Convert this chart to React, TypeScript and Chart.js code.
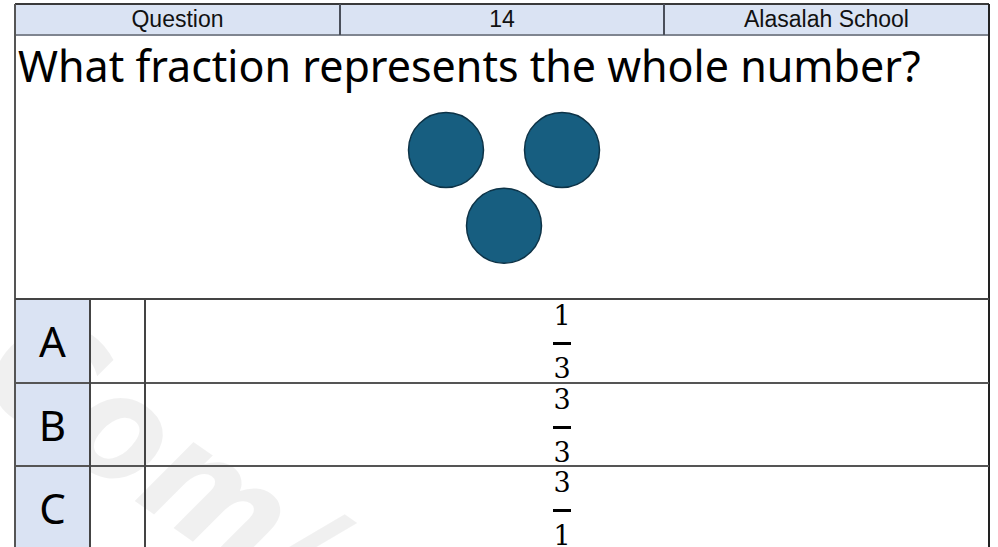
import React, { useEffect, useRef } from "react";
import { Chart, registerables } from "chart.js";

Chart.register(...registerables);

// ---- data ----
const headerLabels = ["Question", "14", "Alasalah School"];
const questionText = "What fraction represents the whole number?";
const dotX = [1, 3, 2];
const dotY = [2, 2, 1];
const optionLetters = ["A", "B", "C"];
const numerators = ["1", "3", "3"];
const denominators = ["3", "3", "1"];

// ---- layout ----
const L = 15;
const R = 989;
const HEAD_TOP = 4;
const HEAD_BOTTOM = 35;
const COL1 = 340;
const COL2 = 664;
const OPT_TOP = 299;
const ROW_H = 83.5;
const OPT_C1 = 90;
const OPT_C2 = 145;
const BLUE = "#dae3f3";
const LINE = "#3a3a3a";

function DotsChart() {
  const ref = useRef<HTMLCanvasElement | null>(null);
  useEffect(() => {
    if (!ref.current) return;
    const chart = new Chart(ref.current, {
      type: "scatter",
      data: {
        datasets: [
          {
            data: dotX.map((x, i) => ({ x, y: dotY[i] })),
            pointRadius: 37.5,
            pointHoverRadius: 37.5,
            pointBorderWidth: 1.5,
            backgroundColor: "#175e80",
            borderColor: "#0d3347",
          },
        ],
      },
      options: {
        animation: false,
        responsive: false,
        devicePixelRatio: 1,
        events: [],
        layout: { padding: 0, autoPadding: false },
        plugins: { legend: { display: false }, tooltip: { enabled: false } },
        scales: {
          x: { type: "linear", display: false, min: -6.431, max: 10.362 },
          y: { type: "linear", display: false, min: 0.032, max: 3.519 },
        },
      },
    });
    return () => chart.destroy();
  }, []);
  return (
    <canvas
      ref={ref}
      width={R - L}
      height={OPT_TOP - HEAD_BOTTOM}
      style={{ position: "absolute", left: L, top: HEAD_BOTTOM, width: R - L, height: OPT_TOP - HEAD_BOTTOM }}
    />
  );
}

function hLine(x1: number, x2: number, y: number, w = 2, color = LINE, key?: string) {
  return (
    <div key={key} style={{ position: "absolute", left: x1, top: y - w / 2, width: x2 - x1, height: w, background: color }} />
  );
}
function vLine(x: number, y1: number, y2: number, w = 2, color = LINE, key?: string) {
  return (
    <div key={key} style={{ position: "absolute", left: x - w / 2, top: y1, width: w, height: y2 - y1, background: color }} />
  );
}

export default function App() {
  const headerCols = [
    [L, COL1],
    [COL1, COL2],
    [COL2, R],
  ];
  const fracStyle: React.CSSProperties = {
    position: "absolute",
    left: 500,
    width: 124,
    height: 30,
    lineHeight: "30px",
    textAlign: "center",
    fontFamily: "'DejaVu Serif', serif",
    fontSize: 27,
    color: "#000",
  };
  return (
    <div style={{ position: "absolute", left: 0, top: 0, width: 998, height: 547, overflow: "hidden", background: "#fff" }}>
      {/* watermark */}
      <div
        style={{
          position: "absolute",
          left: 5,
          top: 255,
          fontFamily: "'DejaVu Sans Condensed', 'DejaVu Sans', sans-serif",
          fontWeight: "bold",
          fontStyle: "italic",
          fontSize: 150,
          color: "rgba(0,0,0,0.06)",
          transform: "rotate(35deg)",
          transformOrigin: "0 0",
          whiteSpace: "nowrap",
          lineHeight: 1,
        }}
      >
        .Com/
      </div>

      {/* header background */}
      <div style={{ position: "absolute", left: L, top: HEAD_TOP, width: R - L, height: HEAD_BOTTOM - HEAD_TOP, background: BLUE }} />
      {headerLabels.map((t, i) => (
        <div
          key={"h" + i}
          style={{
            position: "absolute",
            left: headerCols[i][0],
            width: headerCols[i][1] - headerCols[i][0],
            top: HEAD_TOP,
            height: HEAD_BOTTOM - HEAD_TOP,
            lineHeight: HEAD_BOTTOM - HEAD_TOP + "px",
            textAlign: "center",
            fontFamily: "'Liberation Sans', Arial, sans-serif",
            fontSize: 23,
            color: "#111",
          }}
        >
          {t}
        </div>
      ))}

      {/* question text */}
      <div
        style={{
          position: "absolute",
          left: 18,
          top: 38,
          fontFamily: "'Noto Sans', sans-serif",
          fontSize: 43,
          lineHeight: "56px",
          color: "#000",
          whiteSpace: "nowrap",
        }}
      >
        {questionText}
      </div>

      <DotsChart />

      {/* option letter column background */}
      <div style={{ position: "absolute", left: L, top: OPT_TOP, width: OPT_C1 - L, height: 547 - OPT_TOP, background: BLUE }} />

      {optionLetters.map((t, i) => {
        const top = OPT_TOP + i * ROW_H;
        return (
          <React.Fragment key={"o" + i}>
            <div
              style={{
                position: "absolute",
                left: L,
                width: OPT_C1 - L,
                top,
                height: ROW_H,
                lineHeight: ROW_H + "px",
                textAlign: "center",
                fontFamily: "'Noto Sans', sans-serif",
                fontSize: 42,
                color: "#000",
              }}
            >
              {t}
            </div>
            <div style={{ ...fracStyle, top: top + 2 }}>{numerators[i]}</div>
            <div style={{ position: "absolute", left: 553, top: top + 43, width: 18, height: 3, background: "#000" }} />
            <div style={{ ...fracStyle, top: top + 55 }}>{denominators[i]}</div>
          </React.Fragment>
        );
      })}

      {/* grid lines */}
      {hLine(L, R, HEAD_TOP, 2, LINE, "t")}
      {hLine(L, R, HEAD_BOTTOM, 2, "#7f8590", "hb")}
      {vLine(COL1, HEAD_TOP, HEAD_BOTTOM, 2.5, "#4a4f5a", "c1")}
      {vLine(COL2, HEAD_TOP, HEAD_BOTTOM, 2.5, "#4a4f5a", "c2")}
      {vLine(L, HEAD_TOP, 547, 2, "#555", "l")}
      {vLine(R, HEAD_TOP, 547, 2, "#222", "r")}
      {hLine(L, R, OPT_TOP, 2, "#444", "ot")}
      {hLine(L, R, OPT_TOP + ROW_H, 2, "#555", "r1")}
      {hLine(L, R, OPT_TOP + 2 * ROW_H, 2, "#555", "r2")}
      {vLine(OPT_C1, OPT_TOP, 547, 1.5, "#444", "oc1")}
      {vLine(OPT_C2, OPT_TOP, 547, 1.5, "#444", "oc2")}
    </div>
  );
}
